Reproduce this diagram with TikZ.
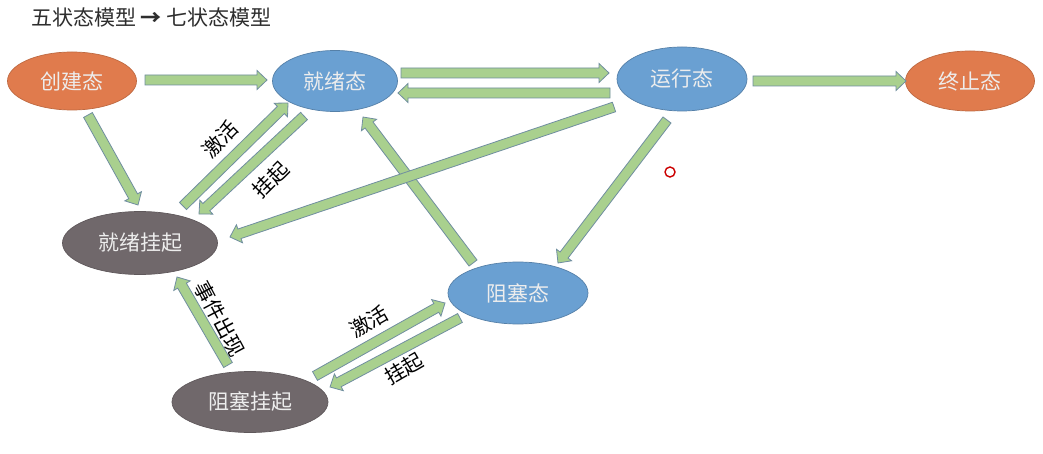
\documentclass[tikz,border=0pt]{standalone}
\usepackage{fontspec}
\setmainfont{Noto Sans CJK SC}
\usetikzlibrary{calc,shapes.geometric}
\definecolor{stOrange}{RGB}{224,123,77}
\definecolor{stBlue}{RGB}{106,160,210}
\definecolor{stGray}{RGB}{112,104,107}
\definecolor{arrFill}{RGB}{169,208,142}
\definecolor{arrLine}{RGB}{112,142,160}
\newcommand\arrSW{5pt}
\newcommand\arrHW{9.5pt}
\newcommand\arrHL{10pt}
\newcommand\fatarrow[2]{%
  \coordinate (fah) at ($(#2)!\arrHL!(#1)$);
  \draw[fatarrow] ($(#1)!\arrSW!90:(#2)$) -- ($(fah)!\arrSW!90:(#2)$) -- ($(fah)!\arrHW!90:(#2)$) -- (#2)
    -- ($(fah)!\arrHW!-90:(#2)$) -- ($(fah)!\arrSW!-90:(#2)$) -- ($(#1)!\arrSW!-90:(#2)$) -- cycle;}
\begin{document}
\begin{tikzpicture}[x=1pt,y=-1pt,
  state/.style={ellipse,inner sep=0pt,text=white!93!black,font=\fontsize{21}{24}\selectfont,line width=0.7pt},
  fatarrow/.style={fill=arrFill,draw=arrLine,line width=0.8pt,line join=miter},
  lbl/.style={font=\fontsize{20.5}{23}\selectfont,text=black,inner sep=0pt}]
\useasboundingbox (0,0) rectangle (1043,454);
\fill[white] (0,0) rectangle (1043,454);
% title
\node[anchor=west,font=\fontsize{21}{24}\selectfont,text=black!82,inner sep=0pt] (title) at (31,17) {五状态模型 \textbf{→} 七状态模型};
% states
\node[state,fill=stOrange,draw=stOrange!85!black,minimum width=129pt,minimum height=58pt] (create) at (72,81) {创建态};
\node[state,fill=stBlue,draw=stBlue!80!black,minimum width=125pt,minimum height=61pt] (ready) at (335,81) {就绪态};
\node[state,fill=stBlue,draw=stBlue!80!black,minimum width=130pt,minimum height=64pt] (run) at (682,79) {运行态};
\node[state,fill=stOrange,draw=stOrange!85!black,minimum width=129pt,minimum height=60pt] (exit) at (970,81) {终止态};
\node[state,fill=stGray,draw=stGray!85!black,minimum width=155pt,minimum height=63pt] (readys) at (140,243) {就绪挂起};
\node[state,fill=stBlue,draw=stBlue!80!black,minimum width=140pt,minimum height=62pt] (block) at (518,293) {阻塞态};
\node[state,fill=stGray,draw=stGray!85!black,minimum width=156pt,minimum height=61pt] (blocks) at (250,402) {阻塞挂起};
% connector end points
\coordinate (c1s) at (145,80);  \coordinate (c1e) at (267,80);
\coordinate (c2s) at (401,73);  \coordinate (c2e) at (609,73);
\coordinate (c3s) at (610,93);  \coordinate (c3e) at (398,93);
\coordinate (c4s) at (753,81);  \coordinate (c4e) at (906,81);
\coordinate (c5s) at (88,115);  \coordinate (c5e) at (138,205);
\coordinate (c6s) at (183,206); \coordinate (c6e) at (288,103);
\coordinate (c7s) at (304,116); \coordinate (c7e) at (199,214);
\coordinate (c8s) at (614,107); \coordinate (c8e) at (230,237);
\coordinate (c9s) at (667,120); \coordinate (c9e) at (558,263);
\coordinate (c10s) at (473,263); \coordinate (c10e) at (363,117);
\coordinate (c11s) at (228,365); \coordinate (c11e) at (177,277);
\coordinate (c12s) at (315,376); \coordinate (c12e) at (445,303);
\coordinate (c13s) at (460,318); \coordinate (c13e) at (330,387);
% connectors
\fatarrow{c1s}{c1e}
\fatarrow{c2s}{c2e}
\fatarrow{c3s}{c3e}
\fatarrow{c4s}{c4e}
\fatarrow{c5s}{c5e}
\fatarrow{c6s}{c6e}
\fatarrow{c7s}{c7e}
\fatarrow{c10s}{c10e}
\fatarrow{c8s}{c8e}
\fatarrow{c9s}{c9e}
\fatarrow{c11s}{c11e}
\fatarrow{c12s}{c12e}
\fatarrow{c13s}{c13e}
% labels
\node[lbl,rotate=45] (l1) at (220,139) {激活};
\node[lbl,rotate=45] (l2) at (271,180) {挂起};
\node[lbl,rotate=-62] (l3) at (220,319) {事件出现};
\node[lbl,rotate=30] (l4) at (369,322) {激活};
\node[lbl,rotate=30] (l5) at (404,369) {挂起};
% pointer ring
\draw[red!80!black,line width=1.4pt] (670,172) circle (5pt);
\end{tikzpicture}
\end{document}
